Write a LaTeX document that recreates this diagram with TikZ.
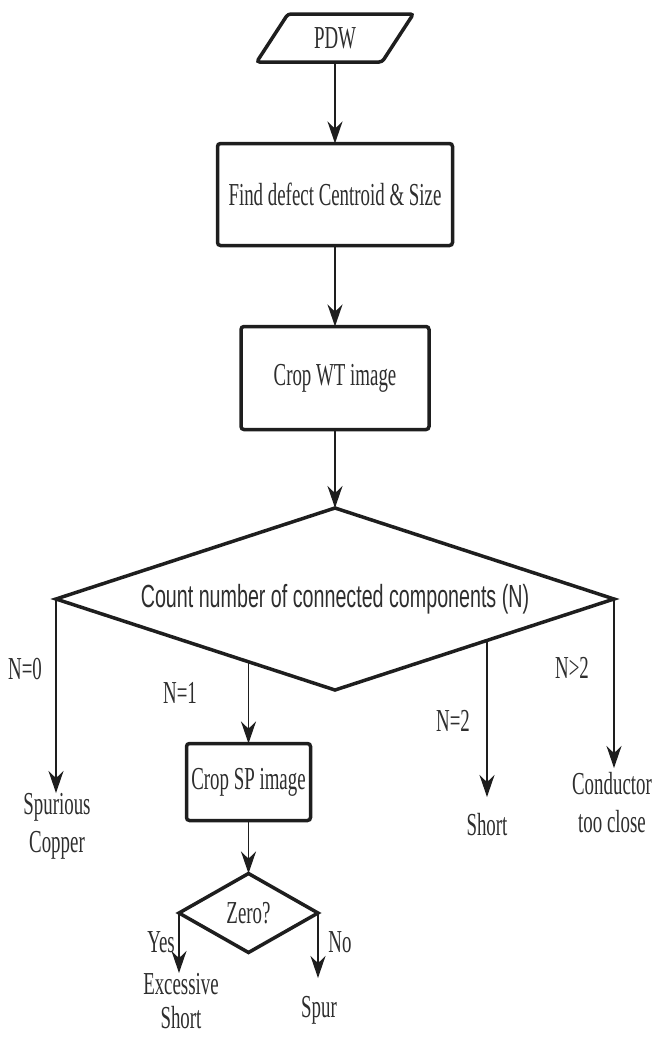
\documentclass[tikz,border=0pt]{standalone}
\usepackage{fontspec}
\setmainfont{Liberation Serif}[FakeStretch=0.59]
\newfontfamily\condsans{Liberation Sans}[FakeStretch=0.615]
\usetikzlibrary{arrows.meta,shapes.geometric,backgrounds}
\definecolor{inkCol}{HTML}{1E1E1E}
\definecolor{txtCol}{HTML}{2E2E2E}
\newcommand{\bigtxt}{\fontsize{32}{38}\selectfont}
\tikzset{
  proc/.style={draw=inkCol, line width=3.5pt, rounded corners=3pt, fill=white,
               inner sep=0pt, outer sep=0pt, font=\bigtxt, text=txtCol},
  iobox/.style={trapezium, trapezium left angle=57, trapezium right angle=123,
                trapezium stretches=true, draw=inkCol, line width=3.5pt, rounded corners=3pt,
                fill=white, inner sep=0pt, outer sep=0pt, font=\bigtxt, text=txtCol},
  decide/.style={diamond, draw=inkCol, line width=3.5pt, fill=white, inner sep=0pt,
                 outer sep=0pt, text=txtCol},
  flow/.style={-{Stealth[length=22pt,width=15pt]}, line width=1.6pt, draw=inkCol}, % connector
  lbl/.style={font=\bigtxt, text=txtCol, inner sep=0pt, align=center},             % end text / branch text
}

\begin{document}
\begin{tikzpicture}[x=1pt,y=-1pt]
  \useasboundingbox (0,0) rectangle (654,1037);
  \def\XC{335}\def\XL{248.5}
  % main column
  \node[iobox, minimum width=157pt, minimum height=48pt] (pdw) at (\XC,38) {PDW};
  \node[proc, minimum width=235pt, minimum height=102pt] (fdc) at (\XC,194.5) {Find defect Centroid \& Size};
  \node[proc, minimum width=188pt, minimum height=103pt] (cwt) at (\XC,378) {Crop WT image};
  \node[decide, aspect=3.07, minimum width=558pt, minimum height=182pt, font=\bigtxt\condsans] (ncc) at (\XC,599)
       {Count number of connected components (N)};
  % N=1 branch
  \node[proc, minimum width=124pt, minimum height=77pt] (csp) at (\XL,782) {Crop SP image};
  \node[decide, aspect=1.76, minimum width=139pt, minimum height=79pt, font=\bigtxt] (zro) at (\XL,913) {Zero?};

  % end texts
  \node[lbl, anchor=north] (spc) at (57,793) {Spurious\\Copper};
  \node[lbl, anchor=north] (sht) at (487,813) {Short};
  \node[lbl, anchor=north] (ctc) at (612,772) {Conductor\\too close};
  \node[lbl, anchor=north, font=\fontsize{32}{34}\selectfont] (exs) at (181,973) {Excessive\\Short};
  \node[lbl, anchor=north] (spr) at (319,996) {Spur};

  % branch texts
  \node[lbl] (n0) at (25,669) {N=0};
  \node[lbl] (n1) at (180,693) {N=1};
  \node[lbl] (n2) at (453,721) {N=2};
  \node[lbl] (n3) at (572,668) {N>2};
  \node[lbl] (yes) at (161,942) {Yes};
  \node[lbl] (no) at (340,942) {No};

  % connectors
  \draw[flow] (pdw.south) -- (fdc.north);
  \draw[flow] (fdc.south) -- (cwt.north);
  \draw[flow] (cwt.south) -- (ncc.north);
  \draw[flow] (ncc.west) -- (ncc.west |- spc.north);
  \begin{scope}[on background layer]
    \draw[flow] (ncc.center -| csp.north) -- (csp.north);
    \draw[flow, shorten >=16pt] (ncc.center -| sht.north) -- (sht.north);
  \end{scope}
  \draw[flow, shorten >=4pt] (ncc.east) -- (ncc.east |- ctc.north);
  \draw[flow] (csp.south) -- (zro.north);
  \draw[flow] (zro.west) -- (zro.west |- exs.north);
  \draw[flow, shorten >=18pt] (zro.east) -- (zro.east |- spr.north);
\end{tikzpicture}
\end{document}
